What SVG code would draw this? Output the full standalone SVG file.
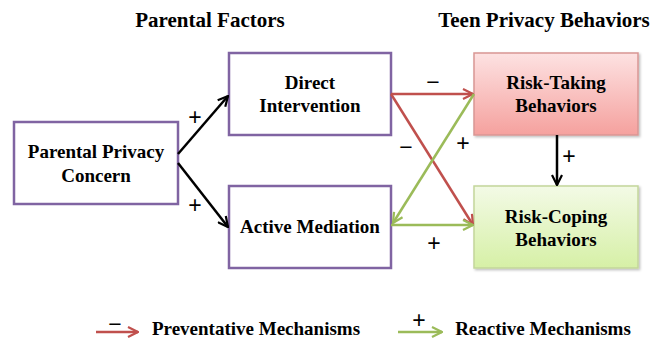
<svg xmlns="http://www.w3.org/2000/svg" width="663" height="341" viewBox="0 0 663 341">
<style>
.t{font-family:'Liberation Serif','Times New Roman',Times,serif;font-weight:700;fill:#000;text-anchor:middle}
.title{font-size:21px}
.lbl{font-size:19px}
.sign{font-family:'Liberation Sans',Arial,sans-serif;font-size:23px;text-anchor:middle;fill:#000}
.pbox{fill:#fff;stroke:#8064a2;stroke-width:2.5}
.blk{stroke:#000;stroke-width:2.5;fill:none}
.red{stroke:#c0504d;stroke-width:2.5;fill:none}
.grn{stroke:#9bbb59;stroke-width:2.5;fill:none}
</style>
<defs>
<linearGradient id="gRed" x1="0" y1="0" x2="0" y2="1">
<stop offset="0" stop-color="#fde2e2"/>
<stop offset="1" stop-color="#f5a19e"/>
</linearGradient>
<linearGradient id="gGrn" x1="0" y1="0" x2="0" y2="1">
<stop offset="0" stop-color="#f3fae6"/>
<stop offset="1" stop-color="#d6f0a6"/>
</linearGradient>
<filter id="sh" x="-10%" y="-10%" width="130%" height="130%">
<feDropShadow dx="1.5" dy="1.5" stdDeviation="1.2" flood-color="#000" flood-opacity="0.25"/>
</filter>
<marker id="aBlk" viewBox="0 0 12 12" refX="11" refY="6" markerWidth="12" markerHeight="12" markerUnits="userSpaceOnUse" orient="auto">
<path d="M1,1 L11,6 L1,11" fill="none" stroke="#000" stroke-width="2.2"/>
</marker>
<marker id="aRed" viewBox="0 0 12 12" refX="11" refY="6" markerWidth="12" markerHeight="12" markerUnits="userSpaceOnUse" orient="auto">
<path d="M1,1 L11,6 L1,11" fill="none" stroke="#c0504d" stroke-width="2.2"/>
</marker>
<marker id="aGrn" viewBox="0 0 12 12" refX="11" refY="6" markerWidth="12" markerHeight="12" markerUnits="userSpaceOnUse" orient="auto">
<path d="M1,1 L11,6 L1,11" fill="none" stroke="#9bbb59" stroke-width="2.2"/>
</marker>
</defs>

<g id="titles">
<text class="t title" font-family="Liberation Serif, serif" x="210" y="27">Parental Factors</text>
<text class="t title" font-family="Liberation Serif, serif" x="544" y="27">Teen Privacy Behaviors</text>
</g>

<g id="node-ppc">
<rect class="pbox" x="14" y="122" width="164" height="82"/>
<text class="t lbl" x="96" y="158">Parental Privacy</text>
<text class="t lbl" x="96" y="182">Concern</text>
</g>

<g id="node-di">
<rect class="pbox" x="229" y="53" width="162" height="82"/>
<text class="t lbl" x="310" y="89">Direct</text>
<text class="t lbl" x="310" y="112">Intervention</text>
</g>

<g id="node-am">
<rect class="pbox" x="229" y="186" width="162" height="82"/>
<text class="t lbl" x="310" y="233">Active Mediation</text>
</g>

<g id="node-rt">
<rect x="474" y="53" width="164" height="82" fill="url(#gRed)" stroke="#d99694" stroke-width="1.5" filter="url(#sh)"/>
<text class="t lbl" x="556" y="89">Risk-Taking</text>
<text class="t lbl" x="556" y="112">Behaviors</text>
</g>

<g id="node-rc">
<rect x="474" y="186" width="164" height="82" fill="url(#gGrn)" stroke="#c3d69b" stroke-width="1.5" filter="url(#sh)"/>
<text class="t lbl" x="556" y="223">Risk-Coping</text>
<text class="t lbl" x="556" y="246">Behaviors</text>
</g>

<g id="connectors">
<line class="blk" x1="178" y1="154" x2="228" y2="96" marker-end="url(#aBlk)"/>
<line class="blk" x1="178" y1="163" x2="228" y2="227" marker-end="url(#aBlk)"/>
<line class="red" x1="391" y1="94" x2="473" y2="94" marker-end="url(#aRed)"/>
<line class="red" x1="391" y1="94" x2="473" y2="225" marker-end="url(#aRed)"/>
<line class="grn" x1="474" y1="94" x2="393" y2="223" marker-end="url(#aGrn)"/>
<line class="grn" x1="391" y1="225" x2="473" y2="225" marker-end="url(#aGrn)"/>
<line class="blk" x1="557" y1="135" x2="557" y2="185" marker-end="url(#aBlk)"/>
</g>

<g id="signs">
<text class="sign" x="195" y="125">+</text>
<text class="sign" x="195" y="213">+</text>
<text class="sign" x="433" y="90">−</text>
<text class="sign" x="406" y="155">−</text>
<text class="sign" x="463" y="151">+</text>
<text class="sign" x="434" y="251">+</text>
<text class="sign" x="569" y="164">+</text>
</g>

<g id="legend">
<line class="red" x1="96" y1="332" x2="138" y2="332" marker-end="url(#aRed)"/>
<text class="sign" x="115" y="332">−</text>
<text class="t lbl" x="256" y="335">Preventative Mechanisms</text>
<line class="grn" x1="398" y1="332" x2="442" y2="332" marker-end="url(#aGrn)"/>
<text class="sign" x="419" y="328">+</text>
<text class="t lbl" x="543" y="335">Reactive Mechanisms</text>
</g>
</svg>
